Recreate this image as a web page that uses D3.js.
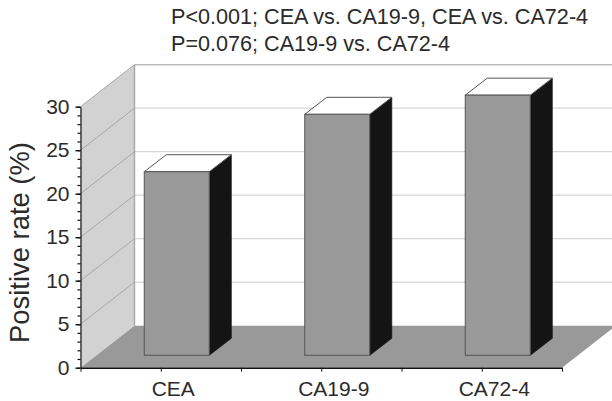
<!DOCTYPE html>
<html>
<head>
<meta charset="utf-8">
<script src="https://cdnjs.cloudflare.com/ajax/libs/d3/7.8.5/d3.min.js"></script>
<style>
html, body { margin: 0; padding: 0; background: #fff; overflow: hidden; }
text { font-family: "Liberation Sans", Arial, sans-serif; fill: #2b2b2b; }
</style>
</head>
<body>
<div id="chart"></div>
<script>
// data
const categories = ["CEA", "CA19-9", "CA72-4"];
const positiveRate = [21.1, 27.7, 29.9];
const yTicks = [0, 5, 10, 15, 20, 25, 30];
const titleLines = ["P<0.001; CEA vs. CA19-9, CEA vs. CA72-4", "P=0.076; CA19-9 vs. CA72-4"];

const width = 612, height = 401;
const plot = { left: 80.5, right: 562, top: 106.7, bottom: 367.7 };

// 3d offsets: whole depth of the box, and of one bar
const depth = { dx: 54, dy: -42 };
const barDepth = { dx: 22, dy: -17 };
const barInset = { dx: 16, dy: -12.4 };
const barWidth = 65;

const x = d3.scaleBand().domain(categories).range([plot.left, plot.right]);
const y = d3.scaleLinear().domain([0, 30]).range([plot.bottom, plot.top]);

const svg = d3.select("#chart").append("svg")
    .attr("width", width)
    .attr("height", height)
    .style("display", "block");

const poly = pts => pts.map(p => p.join(",")).join(" ");

// side wall
svg.append("polygon")
    .attr("points", poly([
        [plot.left, y(0)], [plot.left, y(30)],
        [plot.left + depth.dx, y(30) + depth.dy], [plot.left + depth.dx, y(0) + depth.dy]
    ]))
    .attr("fill", "#d2d2d2");

// grid on the back wall
svg.append("g").selectAll("line")
    .data(yTicks.slice(1))
    .join("line")
    .attr("x1", plot.left + depth.dx)
    .attr("x2", width)
    .attr("y1", d => y(d) + depth.dy)
    .attr("y2", d => y(d) + depth.dy)
    .attr("stroke", d => d === 30 ? "#bdbdbd" : "#d6d6d6")
    .attr("stroke-width", d => d === 30 ? 1.6 : 1.2);

// grid on the side wall
svg.append("g").selectAll("line")
    .data(yTicks.slice(1))
    .join("line")
    .attr("x1", plot.left)
    .attr("x2", plot.left + depth.dx)
    .attr("y1", d => y(d))
    .attr("y2", d => y(d) + depth.dy)
    .attr("stroke", "#a8a8a8")
    .attr("stroke-width", 1);

// back corner
svg.append("line")
    .attr("x1", plot.left + depth.dx)
    .attr("x2", plot.left + depth.dx)
    .attr("y1", y(30) + depth.dy)
    .attr("y2", y(0) + depth.dy)
    .attr("stroke", "#a8a8a8")
    .attr("stroke-width", 1.4);

// floor
svg.append("polygon")
    .attr("points", poly([
        [plot.left, y(0)], [plot.right, y(0)],
        [plot.right + depth.dx, y(0) + depth.dy], [plot.left + depth.dx, y(0) + depth.dy]
    ]))
    .attr("fill", "#999999");

// bars
const bars = svg.append("g").selectAll("g")
    .data(categories.map((c, i) => ({ c, v: positiveRate[i] })))
    .join("g");

const barLeft = d => x(d.c) + (x.bandwidth() - barWidth) / 2 + barInset.dx;
const barTop = d => y(d.v) + barInset.dy;
const barBottom = y(0) + barInset.dy;

bars.append("polygon") // side
    .attr("points", d => poly([
        [barLeft(d) + barWidth, barTop(d)],
        [barLeft(d) + barWidth + barDepth.dx, barTop(d) + barDepth.dy],
        [barLeft(d) + barWidth + barDepth.dx, barBottom + barDepth.dy],
        [barLeft(d) + barWidth, barBottom]
    ]))
    .attr("fill", "#141414")
    .attr("stroke", "#141414")
    .attr("stroke-width", 0.8);

bars.append("polygon") // top
    .attr("points", d => poly([
        [barLeft(d), barTop(d)],
        [barLeft(d) + barDepth.dx, barTop(d) + barDepth.dy],
        [barLeft(d) + barWidth + barDepth.dx, barTop(d) + barDepth.dy],
        [barLeft(d) + barWidth, barTop(d)]
    ]))
    .attr("fill", "#fff")
    .attr("stroke", "#555")
    .attr("stroke-width", 1);

bars.append("rect") // front
    .attr("x", barLeft)
    .attr("y", barTop)
    .attr("width", barWidth)
    .attr("height", d => barBottom - barTop(d))
    .attr("fill", "#999999")
    .attr("stroke", "#555")
    .attr("stroke-width", 1);

// y axis, minor ticks first
svg.append("g")
    .attr("transform", `translate(${plot.left},0)`)
    .call(d3.axisLeft(y).tickValues(d3.range(0, 31)).tickSize(3).tickFormat(""))
    .call(g => g.select(".domain").remove())
    .selectAll("line").attr("stroke", "#111").attr("stroke-width", 1.2);

svg.append("g")
    .attr("transform", `translate(${plot.left},0)`)
    .call(d3.axisLeft(y).tickValues(yTicks).tickSize(5).tickPadding(6).tickSizeOuter(0))
    .call(g => g.select(".domain").attr("stroke", "#111").attr("stroke-width", 1.2))
    .call(g => g.selectAll("line").attr("stroke", "#111").attr("stroke-width", 1.4))
    .call(g => g.selectAll("text").attr("font-size", 21).style("font-family", "Liberation Sans").attr("fill", "#2b2b2b"));

// x axis, ticks on band edges and centres, labels shifted with the bars
const xGuide = d3.scaleLinear().domain([0, categories.length]).range([plot.left, plot.right]);
const xAxis = svg.append("g").attr("transform", `translate(0,${plot.bottom})`);
xAxis.call(d3.axisBottom(xGuide).tickValues(d3.range(0, categories.length + 0.5, 0.5)).tickSize(4).tickFormat("").tickSizeOuter(0))
    .call(g => g.select(".domain").attr("stroke", "#111").attr("stroke-width", 1.4))
    .call(g => g.selectAll("line").attr("stroke", "#111").attr("stroke-width", 1));

xAxis.selectAll("text.cat")
    .data(categories)
    .join("text")
    .attr("class", "cat")
    .attr("x", d => x(d) + x.bandwidth() / 2 + 12.5)
    .attr("y", 28)
    .attr("text-anchor", "middle")
    .attr("font-size", 21)
    .text(d => d);

// y label
svg.append("text")
    .attr("transform", "translate(29,242.5) rotate(-90)")
    .attr("text-anchor", "middle")
    .attr("font-size", 27.4)
    .text("Positive rate (%)");

// title
svg.append("g").selectAll("text")
    .data(titleLines)
    .join("text")
    .attr("x", 171)
    .attr("y", (d, i) => 24 + i * 27)
    .attr("font-size", 21.6)
    .text(d => d);
</script>
</body>
</html>
